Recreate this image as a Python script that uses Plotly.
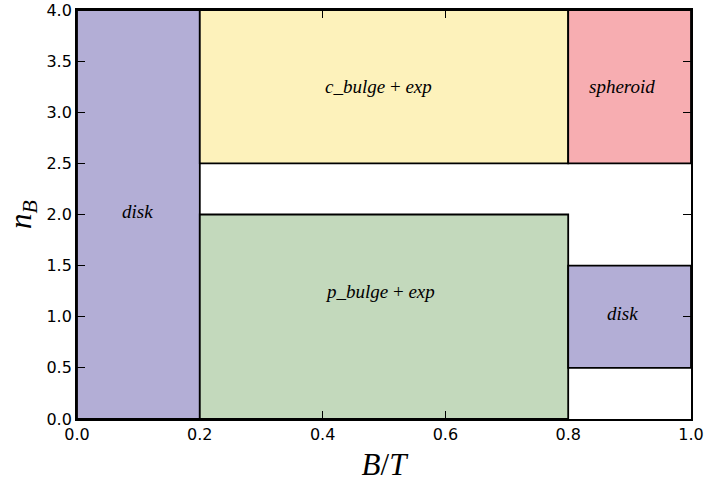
import plotly.graph_objects as go

# Classification regions in the (B/T, n_B) plane
region_names = ["disk", "c_bulge + exp", "p_bulge + exp", "spheroid", "disk"]
region_x0 = [0.0, 0.2, 0.2, 0.8, 0.8]
region_x1 = [0.2, 0.8, 0.8, 1.0, 1.0]
region_y0 = [0.0, 2.5, 0.0, 2.5, 0.5]
region_y1 = [4.0, 4.0, 2.0, 4.0, 1.5]

# Label anchor points (left edge, vertical centre)
label_x = [0.07, 0.40, 0.40, 0.83, 0.86]
label_y = [2.03, 3.25, 1.25, 3.25, 1.03]

x_ticks = [0.0, 0.2, 0.4, 0.6, 0.8, 1.0]
y_ticks = [0.0, 0.5, 1.0, 1.5, 2.0, 2.5, 3.0, 3.5, 4.0]

colors = ["#b3aed6", "#fdf2bb", "#c3d9bc", "#f7adb1", "#b3aed6"]

fig = go.Figure()

shapes = []
for x0, x1, y0, y1, c in zip(region_x0, region_x1, region_y0, region_y1, colors):
    shapes.append(dict(type="rect", xref="x", yref="y", x0=x0, x1=x1, y0=y0, y1=y1,
                       fillcolor=c, line=dict(color="black", width=1.8), layer="below"))

annotations = []
for name, lx, ly in zip(region_names, label_x, label_y):
    parts = name.split(" + ")
    txt = " + ".join(f"<i>{p}</i>" for p in parts)
    annotations.append(dict(x=lx, y=ly, xref="x", yref="y", text=txt, showarrow=False,
                            xanchor="left", yanchor="middle",
                            font=dict(family="Liberation Serif", size=19, color="black")))

fig.add_trace(go.Scatter(x=[0, 1], y=[0, 4], mode="markers", marker=dict(opacity=0),
                         hoverinfo="skip", showlegend=False))

axis_common = dict(showline=True, linecolor="black", linewidth=1.8, mirror="ticks",
                   ticks="inside", ticklen=8, tickwidth=1.2, tickcolor="black",
                   showgrid=False, zeroline=False, automargin=False,
                   tickfont=dict(family="DejaVu Sans", size=16, color="black"))

fig.update_layout(
    width=707, height=485,
    margin=dict(l=77, r=16, t=10, b=66),
    paper_bgcolor="white", plot_bgcolor="white",
    shapes=shapes, annotations=annotations,
    xaxis=dict(range=[0, 1], tickvals=x_ticks, ticktext=[f"{v:.1f}" for v in x_ticks],
               title=dict(text="<i>B</i>/<i>T</i>", standoff=10,
                          font=dict(family="Liberation Serif", size=31, color="black")),
               **axis_common),
    yaxis=dict(range=[0, 4], tickvals=y_ticks, ticktext=[f"{v:.1f}" for v in y_ticks],
               title=dict(text="<i>n</i><sub><i>B</i></sub>", standoff=6,
                          font=dict(family="Liberation Serif", size=31, color="black")),
               **axis_common),
)

fig.write_html("out.html")
